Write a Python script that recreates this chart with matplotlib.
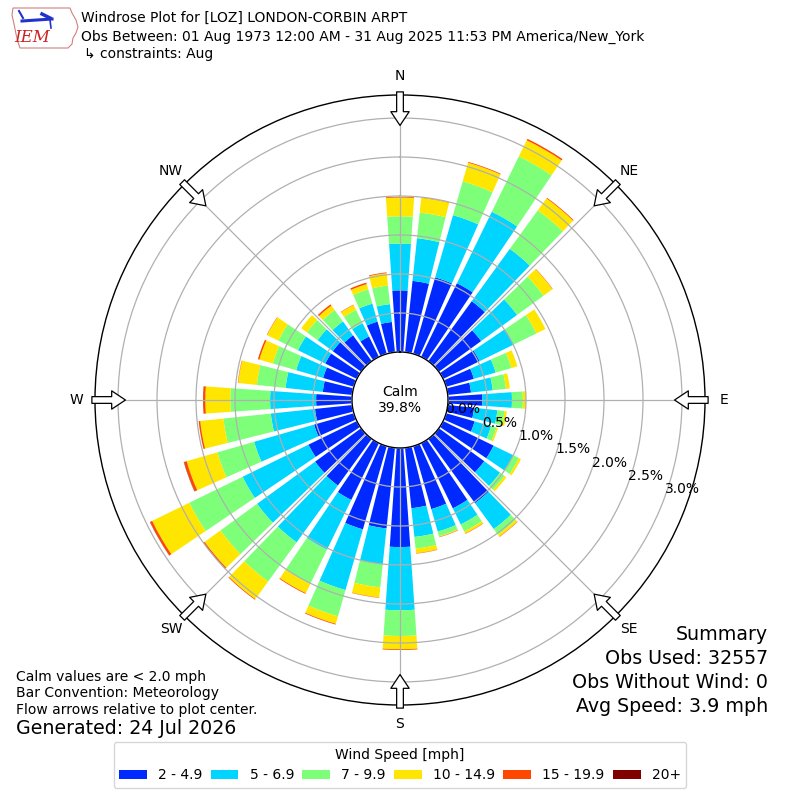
import numpy as np
import matplotlib
matplotlib.use("Agg")
import matplotlib.pyplot as plt
from matplotlib.patches import Patch, Polygon

# ---------------- data ----------------
directions = list(range(0, 360, 10))
speed_bins = ["2 - 4.9", "5 - 6.9", "7 - 9.9", "10 - 14.9", "15 - 19.9", "20+"]
calm_pct = 39.8
ring_values = [0.0, 0.5, 1.0, 1.5, 2.0, 2.5, 3.0]
compass_labels = ["N", "NE", "E", "SE", "S", "SW", "W", "NW"]

bin_2_49 = [0.79, 0.92, 1.02, 1.05, 0.95, 0.67, 0.52, 0.37, 0.30, 0.44, 0.34, 0.38,
            0.72, 0.72, 1.02, 0.93, 0.84, 0.78, 1.27, 1.04, 1.11, 0.81, 0.74, 0.73,
            0.69, 0.53, 0.48, 0.46, 0.38, 0.41, 0.45, 0.45, 0.41, 0.29, 0.43, 0.39]
bin_5_69 = [0.60, 0.55, 0.83, 1.02, 0.83, 0.57, 0.49, 0.29, 0.28, 0.38, 0.30, 0.22,
            0.28, 0.25, 0.41, 0.23, 0.30, 0.37, 0.81, 0.46, 0.81, 0.71, 0.90, 0.92,
            0.94, 0.80, 0.57, 0.59, 0.48, 0.36, 0.39, 0.24, 0.22, 0.19, 0.24, 0.23]
bin_7_99 = [0.35, 0.33, 0.45, 0.79, 0.61, 0.42, 0.32, 0.21, 0.17, 0.14, 0.09, 0.07,
            0.08, 0.07, 0.09, 0.10, 0.06, 0.15, 0.33, 0.30, 0.35, 0.49, 0.62, 0.58,
            0.76, 0.49, 0.61, 0.51, 0.37, 0.31, 0.28, 0.17, 0.18, 0.19, 0.19, 0.24]
bin_10_149 = [0.24, 0.19, 0.25, 0.23, 0.19, 0.14, 0.13, 0.08, 0.05, 0.04, 0.03, 0.02,
              0.03, 0.03, 0.03, 0.03, 0.01, 0.06, 0.17, 0.13, 0.10, 0.13, 0.28, 0.25,
              0.53, 0.41, 0.30, 0.32, 0.24, 0.18, 0.16, 0.09, 0.07, 0.07, 0.07, 0.16]
bin_15_199 = [0.01, 0.005, 0.01, 0.02, 0.01, 0.005, 0.0, 0.0, 0.0, 0.0, 0.0, 0.0,
              0.0, 0.0, 0.005, 0.005, 0.005, 0.005, 0.01, 0.005, 0.01, 0.01, 0.01, 0.02,
              0.03, 0.035, 0.02, 0.03, 0.005, 0.02, 0.005, 0.0, 0.02, 0.005, 0.02, 0.01]
bin_20p = [0.0] * 24 + [0.003, 0.004] + [0.0] * 10

series = [bin_2_49, bin_5_69, bin_7_99, bin_10_149, bin_15_199, bin_20p]

# ---------------- figure ----------------
W = H = 800
fig = plt.figure(figsize=(8, 8), dpi=100)

def fx(px):
    return px / W

def fy(py):
    return 1 - py / H

ax = fig.add_axes([fx(95), 95 / H, 610 / W, 610 / H], projection="polar")
ax.set_theta_zero_location("N")
ax.set_theta_direction(-1)

# radial scale: pixel radius ~ 48 + 78*pct, outer edge at 305 px
offset = 48.0 / 78.0
rmax = 305.0 / 78.0
ax.set_ylim(0, rmax)

colors = plt.cm.jet(np.arange(1, 7) / 6.0)
theta = np.deg2rad(directions)
width = np.deg2rad(10) * 0.8
bottom = np.full(len(directions), offset)
for vals, col in zip(series, colors):
    v = np.array(vals)
    ax.bar(theta, v, width=width, bottom=bottom, color=col, linewidth=0,
           align="center", zorder=2)
    bottom = bottom + v

# grid
ax.set_axisbelow(False)
ax.set_yticks([offset + v for v in ring_values])
ax.set_yticklabels([])
ax.set_xticks(np.deg2rad(np.arange(0, 360, 45)))
ax.set_xticklabels([])
ax.grid(True, color="#b0b0b0", linewidth=0.9)
ax.spines["polar"].set_linewidth(1.0)

# calm circle
tt = np.linspace(0, 2 * np.pi, 721)
ax.fill(tt, np.full_like(tt, offset), color="white", zorder=3)
ax.plot(tt, np.full_like(tt, offset), color="black", lw=1.0, zorder=3.1)
ax.text(0, 0, "Calm\n%.1f%%" % calm_pct, ha="center", va="center",
        fontsize=10, zorder=4)

# radial labels
lab_theta = np.deg2rad(110)
for v in ring_values:
    ax.text(lab_theta, offset + v, "%.1f%%" % v, ha="left", va="bottom",
            fontsize=10, zorder=5)

# compass arrows and labels
for i, lab in enumerate(compass_labels):
    th = np.deg2rad(45 * i)
    ax.annotate("", xy=(th, 3.52), xytext=(th, 3.95), xycoords="data",
                arrowprops=dict(arrowstyle="simple,head_length=0.45,head_width=0.6,tail_width=0.22",
                                fc="white", ec="black", lw=0.9,
                                shrinkA=0, shrinkB=0, mutation_scale=22),
                annotation_clip=False, zorder=6)
    ax.text(th, 4.15, lab, ha="center", va="center", fontsize=10,
            clip_on=False)

# ---------------- texts ----------------
fig.text(fx(81), fy(18), "Windrose Plot for [LOZ] LONDON-CORBIN ARPT",
         ha="left", va="center", fontsize=10)
fig.text(fx(81), fy(37),
         "Obs Between: 01 Aug 1973 12:00 AM - 31 Aug 2025 11:53 PM America/New_York",
         ha="left", va="center", fontsize=10)
fig.text(fx(84), fy(54), "\u21b3 constraints: Aug", ha="left", va="center",
         fontsize=10)

for y, t in zip([677, 693, 710], ["Calm values are < 2.0 mph",
                                  "Bar Convention: Meteorology",
                                  "Flow arrows relative to plot center."]):
    fig.text(fx(16), fy(y), t, ha="left", va="center", fontsize=10)
fig.text(fx(16), fy(729), "Generated: 24 Jul 2026", ha="left", va="center",
         fontsize=13.7)

for y, t in zip([635, 659, 683, 706], ["Summary", "Obs Used: 32557",
                                       "Obs Without Wind: 0",
                                       "Avg Speed: 3.9 mph"]):
    fig.text(fx(768), fy(y), t, ha="right", va="center", fontsize=13.7)

# ---------------- IEM logo (approximate) ----------------
outline = [(13, 8), (70, 8), (72, 13), (76, 20), (78, 27), (76, 33), (73, 38),
           (72, 44), (68, 48), (20, 48), (18, 42), (16, 34), (14, 24), (12, 15)]
fig.patches.append(Polygon([(fx(x), fy(y)) for x, y in outline], closed=True,
                           fill=False, ec="#d08080", lw=0.8,
                           transform=fig.transFigure))
fig.lines.append(plt.Line2D([fx(22), fx(52)], [fy(21), fy(19)], color="#2233cc",
                            lw=2.2, transform=fig.transFigure))
fig.lines.append(plt.Line2D([fx(19), fx(23)], [fy(11), fy(18)], color="#2233cc",
                            lw=1.5, transform=fig.transFigure))
fig.lines.append(plt.Line2D([fx(42), fx(50)], [fy(14), fy(18)], color="#2233cc",
                            lw=2.5, transform=fig.transFigure))
fig.lines.append(plt.Line2D([fx(50), fx(51)], [fy(20), fy(28)], color="#2233cc",
                            lw=1.2, transform=fig.transFigure))
fig.text(fx(32), fy(38), "IEM", ha="center", va="center", fontsize=12,
         color="#cc2222", style="italic", family="DejaVu Serif")

# ---------------- legend ----------------
handles = [Patch(facecolor=c, edgecolor="none") for c in colors]
leg = fig.legend(handles, speed_bins, loc="lower center",
                 bbox_to_anchor=(0.5, 12 / H), ncol=6, fontsize=10,
                 title="Wind Speed [mph]", title_fontsize=10,
                 columnspacing=0.6, borderaxespad=0, frameon=True)

fig.savefig("out.png", dpi=100)
